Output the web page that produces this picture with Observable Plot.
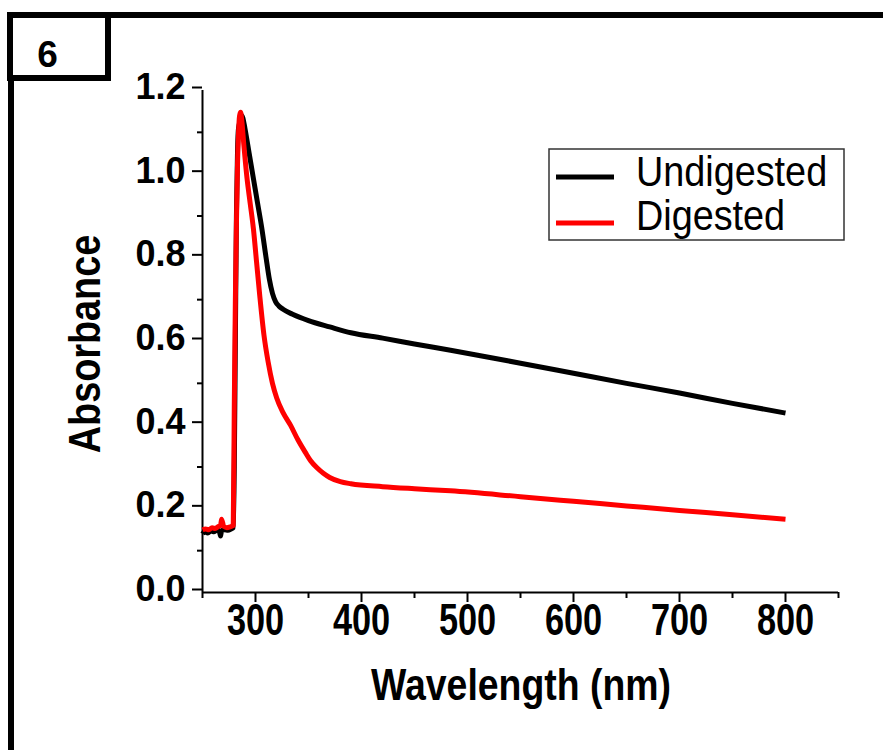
<!DOCTYPE html>
<html>
<head>
<meta charset="utf-8">
<script src="https://cdn.jsdelivr.net/npm/d3@7"></script>
<script src="https://cdn.jsdelivr.net/npm/@observablehq/plot@0.6"></script>
<style>
  html, body { margin: 0; padding: 0; background: #fff; }
  #chart { width: 883px; height: 750px; overflow: hidden; }
</style>
</head>
<body>
<div id="chart"></div>
<script>
// ---- data ----
const panelLabel = "6";
const seriesNames = ["Undigested", "Digested"];
const seriesColors = ["#000000", "#ff0000"];
const xTitle = "Wavelength (nm)";
const yTitle = "Absorbance";
const xMajorTicks = [300, 400, 500, 600, 700, 800];
const xMinorTicks = [250, 350, 450, 550, 650, 750, 850];
const yMajorTicks = [0, 0.2, 0.4, 0.6, 0.8, 1.0, 1.2];
const yMinorTicks = [0.1, 0.3, 0.5, 0.7, 0.9, 1.1];

const undigestedNm  = [250, 252, 255, 258, 261, 264, 266, 267, 268, 271, 274, 277, 279, 280, 281, 282, 283, 284, 286, 287, 288, 290, 294, 298, 302, 306, 310, 313, 316, 319, 322, 326, 335, 350, 370, 390, 420, 450, 484, 550, 600, 650, 700, 750, 800];
const undigestedAbs = [0.140, 0.145, 0.142, 0.147, 0.145, 0.150, 0.145, 0.135, 0.148, 0.150, 0.149, 0.152, 0.155, 0.30, 0.60, 0.90, 1.05, 1.11, 1.13, 1.14, 1.135, 1.11, 1.05, 0.99, 0.93, 0.87, 0.80, 0.75, 0.715, 0.695, 0.685, 0.677, 0.665, 0.650, 0.635, 0.621, 0.608, 0.594, 0.579, 0.548, 0.524, 0.500, 0.477, 0.452, 0.429];

const digestedNm  = [250, 253, 256, 259, 262, 265, 267, 268, 270, 273, 276, 279, 280, 281, 282, 283, 284, 285, 286, 287, 289, 292, 295, 298, 301, 304, 308, 312, 316, 320, 326, 333, 340, 347, 352, 358, 364, 370, 380, 390, 420, 450, 484, 550, 600, 650, 700, 750, 800];
const digestedAbs = [0.150, 0.152, 0.150, 0.155, 0.153, 0.158, 0.160, 0.175, 0.158, 0.155, 0.157, 0.160, 0.45, 0.70, 0.88, 1.02, 1.10, 1.14, 1.148, 1.13, 1.07, 0.99, 0.93, 0.87, 0.79, 0.71, 0.615, 0.55, 0.50, 0.465, 0.43, 0.40, 0.365, 0.335, 0.315, 0.298, 0.285, 0.275, 0.265, 0.260, 0.253, 0.248, 0.243, 0.229, 0.218, 0.207, 0.196, 0.186, 0.175];

const undigested = undigestedNm.map((x, i) => ({x, y: undigestedAbs[i]}));
const digested = digestedNm.map((x, i) => ({x, y: digestedAbs[i]}));

const FONT = "'Liberation Sans', Arial, Helvetica, sans-serif";

const chart = Plot.plot({
  width: 883,
  height: 750,
  marginLeft: 202,
  marginRight: 45,
  marginTop: 90,
  marginBottom: 158,
  style: {fontFamily: FONT, background: "#fff", color: "#000", overflow: "hidden"},
  x: {domain: [250, 850]},
  y: {domain: [0, 1.2]},
  marks: [
    Plot.ruleY([0], {stroke: "#000", strokeWidth: 2}),
    Plot.ruleX([250], {stroke: "#000", strokeWidth: 2}),
    Plot.axisX(xMinorTicks, {tickSize: 6, strokeWidth: 2, tickFormat: () => "", label: null}),
    Plot.axisX(xMajorTicks, {tickSize: 10, strokeWidth: 2, tickPadding: 1, fontSize: 44, fontWeight: "bold", tickFormat: d => String(d), label: null}),
    Plot.axisY(yMinorTicks, {tickSize: 5, strokeWidth: 2, tickFormat: () => "", label: null}),
    Plot.axisY(yMajorTicks, {tickSize: 10, strokeWidth: 2, tickPadding: 7, dy: -3, fontSize: 36, fontWeight: "bold", tickFormat: d => d.toFixed(1), label: null}),
    Plot.line(undigested, {x: "x", y: "y", stroke: seriesColors[0], strokeWidth: 5, strokeLinejoin: "round", strokeLinecap: "butt", curve: "monotone-x"}),
    Plot.line(digested, {x: "x", y: "y", stroke: seriesColors[1], strokeWidth: 5, strokeLinejoin: "round", strokeLinecap: "butt", curve: "monotone-x"})
  ]
});

document.getElementById("chart").appendChild(chart);

const svg = d3.select(chart);

// condense the x tick labels (reference uses a narrow bold face)
svg.selectAll('g[aria-label="x-axis tick label"] text').each(function() {
  const t = this.getAttribute("transform") || "";
  this.setAttribute("transform", t + " scale(0.78,1)");
});

// axis titles
svg.append("text")
  .attr("transform", "translate(521,700) scale(0.85,1)")
  .attr("text-anchor", "middle")
  .attr("font-family", FONT).attr("font-weight", "bold").attr("font-size", 44)
  .attr("fill", "#000")
  .text(xTitle);

svg.append("text")
  .attr("transform", "translate(100,344) rotate(-90) scale(0.86,1)")
  .attr("text-anchor", "middle")
  .attr("font-family", FONT).attr("font-weight", "bold").attr("font-size", 44)
  .attr("fill", "#000")
  .text(yTitle);

// legend
const lg = svg.append("g");
lg.append("rect").attr("x", 549).attr("y", 149).attr("width", 295).attr("height", 91)
  .attr("fill", "#fff").attr("stroke", "#333").attr("stroke-width", 1.5);
const legendRows = [{y: 177, base: 186}, {y: 223, base: 230}];
seriesNames.forEach((name, i) => {
  lg.append("line").attr("x1", 556).attr("x2", 614)
    .attr("y1", legendRows[i].y).attr("y2", legendRows[i].y)
    .attr("stroke", seriesColors[i]).attr("stroke-width", 5);
  lg.append("text")
    .attr("transform", `translate(636,${legendRows[i].base}) scale(0.9,1)`)
    .attr("text-anchor", "start")
    .attr("font-family", FONT).attr("font-size", 42).attr("fill", "#000")
    .text(name);
});

// panel frame and label box
const fr = svg.append("g");
fr.append("line").attr("x1", 8).attr("x2", 900).attr("y1", 15).attr("y2", 15)
  .attr("stroke", "#000").attr("stroke-width", 6);
fr.append("line").attr("x1", 11).attr("x2", 11).attr("y1", 12).attr("y2", 760)
  .attr("stroke", "#000").attr("stroke-width", 6);
fr.append("rect").attr("x", 10).attr("y", 15).attr("width", 98).attr("height", 63)
  .attr("fill", "#fff").attr("stroke", "#000").attr("stroke-width", 6);
fr.append("text").attr("x", 47.5).attr("y", 67)
  .attr("text-anchor", "middle")
  .attr("font-family", FONT).attr("font-weight", "bold").attr("font-size", 37)
  .attr("fill", "#000")
  .text(panelLabel);
</script>
</body>
</html>
